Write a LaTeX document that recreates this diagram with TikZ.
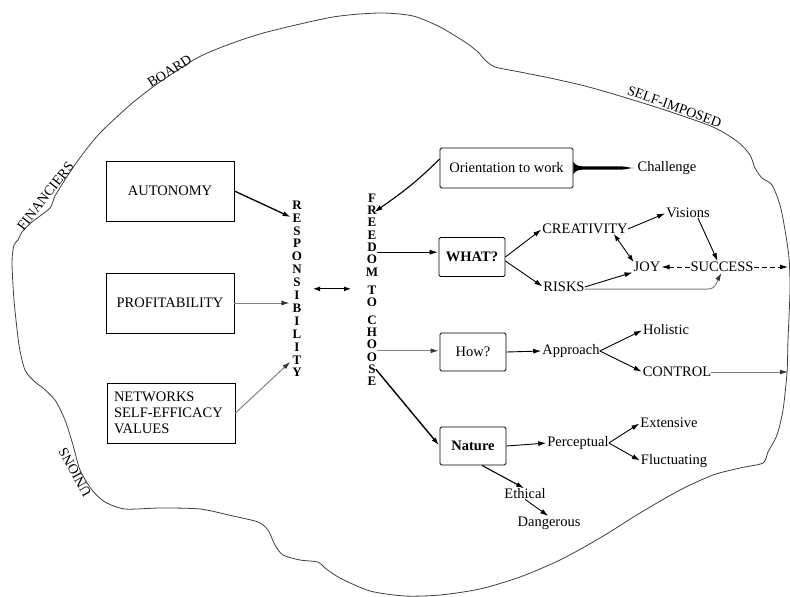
\documentclass[tikz,border=0pt]{standalone}
\usepackage{fontspec}
\setmainfont{Liberation Serif}
\usetikzlibrary{calc,arrows.meta}
\begin{document}
\begin{tikzpicture}[x=1pt,y=1pt,
  every node/.style={font=\fontsize{14.5}{16}\selectfont, inner sep=0pt},
  bigbox/.style={draw, line width=0.8pt, minimum width=128pt, minimum height=60pt},
  box/.style={draw, line width=0.8pt, rounded corners=1.5pt, minimum width=66pt, minimum height=39pt},
  vlet/.style={font=\fontsize{13}{13}\selectfont\bfseries, inner sep=0pt},
  rimlabel/.style={font=\fontsize{14}{14}\selectfont, anchor=base, inner sep=0pt},
  ar/.style={-{Latex[length=8pt,width=5pt]}, line width=0.9pt, shorten >=1pt},
  dar/.style={{Latex[length=7pt,width=5pt]}-{Latex[length=7pt,width=5pt]}, line width=0.9pt},
  gar/.style={-{Latex[length=8pt,width=5pt,color=black!80]}, line width=1pt, draw=black!50, shorten >=1pt},
  dsh/.style={dash pattern=on 5pt off 3pt},
]
\useasboundingbox (0,0) rectangle (790,-597);

% outer boundary
\draw[line width=0.8pt, black!75] plot[smooth cycle, tension=0.45] coordinates {
 (380,-13) (413,-16) (440,-27) (465,-42) (478,-52) (485,-60) (495,-67) (520,-72)
 (550,-78) (585,-86) (620,-96) (665,-110) (713,-127) (738,-142) (750,-155)
 (755,-168) (762,-178) (772,-185) (780,-205) (785,-230) (789,-258) (790,-290)
 (788,-340) (787,-373) (783,-410) (777,-435) (768,-452) (763,-463) (740,-468)
 (713,-475) (680,-490) (640,-513) (600,-538) (560,-560) (520,-577) (480,-589)
 (440,-595) (405,-596) (370,-591) (340,-578) (325,-568) (318,-562) (300,-560)
 (283,-555) (275,-545) (268,-530) (258,-522) (233,-516) (200,-509) (160,-508)
 (125,-509) (105,-502) (92,-490) (80,-470) (73,-445) (65,-420) (55,-400)
 (43,-388) (35,-382) (25,-370) (19,-345) (14,-300) (12,-262) (14,-245)
 (18,-240) (22,-232) (32,-222) (50,-208) (55,-196) (68,-175) (82,-155)
 (100,-133) (130,-105) (157,-84) (197,-58) (230,-44) (267,-32) (333,-17)};

% labels along the boundary
\node[rimlabel, rotate=32] (board) at (172,-75) {BOARD};
\node[rimlabel, rotate=52] (fin) at (49,-199) {FINANCIERS};
\node[rimlabel, rotate=-20] (self) at (673,-111) {SELF-IMPOSED};
\node[rimlabel, rotate=119] (unions) at (79,-470) {UNIONS};

% left boxes
\node[bigbox] (auto) at (170,-191) {AUTONOMY};
\node[bigbox] (prof) at (170,-303) {PROFITABILITY};
\node[bigbox, text width=114pt, inner xsep=7pt, align=left] (netw) at (171,-413)
  {NETWORKS\\SELF-EFFICACY\\VALUES};

% vertical words
\foreach \c [count=\i] in {R,E,S,P,O,N,S,I,B,I,L,I,T,Y}
  \node[vlet] (r\i) at (297,{-205-12.9*(\i-1)}) {\c};
\foreach \c/\yy [count=\i] in {F/198,R/210.3,E/222.6,E/234.9,D/247.2,O/259.5,M/271.8,
  T/290,O/302.3,C/320,H/332.3,O/344.6,O/356.9,S/369.2,E/381.5}
  \node[vlet] (f\i) at (372,-\yy) {\c};

% right side
\node[box, minimum width=133pt, minimum height=40pt] (orient) at (506.5,-168) {Orientation to work};
\node (chal) at (667,-168) {Challenge};
\node[box, font=\fontsize{14.5}{16}\selectfont\bfseries] (what) at (472,-257) {WHAT?};
\node (creat) at (585,-229) {CREATIVITY};
\node (vis) at (688,-213) {Visions};
\node (joy) at (647,-267) {JOY};
\node (succ) at (722,-267) {SUCCESS};
\node (risks) at (564,-287) {RISKS};
\node[box, minimum height=38pt] (how) at (473,-352) {How?};
\node (appr) at (571,-351) {Approach};
\node (hol) at (666,-330) {Holistic};
\node (ctrl) at (677,-372) {CONTROL};
\node[box, minimum height=38pt, font=\fontsize{14.5}{16}\selectfont\bfseries] (nat) at (473,-446) {Nature};
\node (perc) at (578,-443) {Perceptual};
\node (ext) at (669,-423) {Extensive};
\node (fluc) at (674,-461) {Fluctuating};
\node (eth) at (525,-494) {Ethical};
\node (dang) at (549,-523) {Dangerous};

\coordinate (rimS) at (789,-267);
\coordinate (rimC) at (789,-372);
\coordinate (rmid) at ($(r7)!.5!(r8)$);
\coordinate (fhow) at ($(f12.east)!.5!(f13.east)$);

% into RESPONSIBILITY
\draw[ar, line width=1.3pt, shorten >=2pt] (auto.east) -- (r2.west);
\draw[gar, shorten >=3pt] (prof.east) -- (prof.east -| r9.west);
\draw[gar, shorten >=3pt] (netw.east) -- (r13.west);
\draw[dar, shorten <=16pt, shorten >=21pt] (rmid) -- (rmid -| f1);

% out of FREEDOM TO CHOOSE
\draw[ar, line width=1.1pt, shorten >=-3pt] ([yshift=9pt]orient.west) to[out=225,in=35] (f2.east);
\draw[ar, line width=0.6pt] ([yshift=-5pt]f5.east) -- ([yshift=-5pt]f5.east -| what.west);
\draw[gar] (fhow) -- (fhow -| how.west);
\draw[ar, line width=1.4pt] (f14.east) -- (nat.west);

% orientation stroke
\fill ([yshift=6pt]orient.east) to[out=-60,in=180] ([xshift=12pt,yshift=1.6pt]orient.east)
  -- ($(chal.west)+(-16,1.6)$) to[out=0,in=180] ($(chal.west)+(-3,0)$)
  to[out=180,in=0] ($(chal.west)+(-16,-1.6)$)
  -- ([xshift=12pt,yshift=-1.6pt]orient.east) to[out=180,in=60] ([yshift=-6pt]orient.east) -- cycle;

% WHAT? branch
\draw[ar] (what.east) -- (creat.west);
\draw[ar] ([yshift=-4pt]what.east) -- (risks.west);
\draw[ar] (creat.east) -- (vis.west);
\draw[dar] ([xshift=-14pt]creat.south east) -- (joy.north west);
\draw[ar] ([xshift=10pt]vis.south) -- ([xshift=-4pt]succ.north);
\draw[ar] (risks.east) -- (joy.south west);
\draw[gar] ([yshift=-2pt]risks.east) -- ($(risks.east -| succ.south)+(-14,-2)$) to[out=0,in=-120] (succ.south);
\draw[ar, dsh] (succ.west) -- (joy.east);
\draw[ar, dsh] (succ.east) -- (rimS);

% How? branch
\draw[ar] (how.east) -- (appr.west);
\draw[ar] (appr.east) -- (hol.west);
\draw[ar] (appr.east) -- (ctrl.west);
\draw[gar] (ctrl.east) -- (rimC);

% Nature branch
\draw[ar] (nat.east) -- (perc.west);
\draw[ar] (perc.east) -- (ext.west);
\draw[ar] (perc.east) -- (fluc.west);
\draw[ar, line width=1.1pt] ([xshift=9pt]nat.south) -- (eth.north);
\draw[ar] (eth.south) -- (dang.north);
\end{tikzpicture}
\end{document}
